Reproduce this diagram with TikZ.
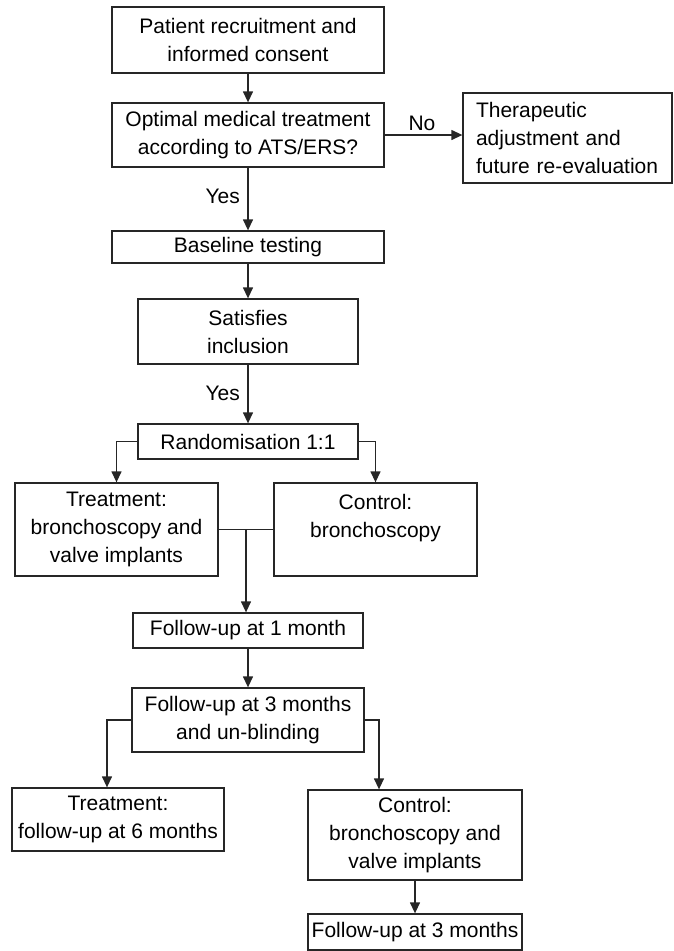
\documentclass[tikz,border=0pt]{standalone}
\usepackage{fontspec}
\setmainfont{Liberation Sans}
\usetikzlibrary{arrows.meta,calc}
\begin{document}
\begin{tikzpicture}[x=1pt,y=-1pt,
  txt/.style={font=\fontsize{21}{28}\selectfont},
  box/.style={txt, draw=black!85, line width=1.3pt, inner sep=0pt, align=center},
  lbl/.style={txt, inner sep=0pt},
  ln/.style={line width=1.3pt, draw=black!85},
  arr/.style={ln, -{Triangle[length=11pt,width=10pt]}}]
\useasboundingbox (0,0) rectangle (673,951);

\node[box, minimum width=272pt, minimum height=66pt] (b1) at (248,40) {Patient recruitment and\\informed consent};
\node[box, minimum width=272pt, minimum height=64pt] (b2) at (248,135) {Optimal medical treatment\\according to ATS/ERS?};
\node[box, minimum height=90pt, text width=183pt, inner xsep=13pt, align=left] (b3) at (567.5,138) {Therapeutic\\adjustment and\\future re-evaluation};
\node[box, minimum width=272pt, minimum height=32pt] (base) at (248,247) {Baseline testing};
\node[box, minimum width=220pt, minimum height=65pt] (sat) at (248,331.5) {Satisfies\\inclusion};
\node[box, minimum width=220pt, minimum height=35pt] (rand) at (248,441.5) {Randomisation 1:1};
\node[box, minimum width=203pt, minimum height=93pt] (treat) at (116.5,529.5) {Treatment:\\bronchoscopy and\\valve implants};
\node[box, minimum width=203pt, minimum height=93pt] (ctrl) at (375.5,529.5) {Control:\\bronchoscopy\\\mbox{}};
\node[box, minimum width=230pt, minimum height=35pt] (fu1) at (248,630.5) {Follow-up at 1 month};
\node[box, minimum width=232pt, minimum height=64pt] (fu3) at (248,720) {Follow-up at 3 months\\and un-blinding};
\node[box, minimum width=212pt, minimum height=63pt] (fu6) at (118,819.5) {Treatment:\\follow-up at 6 months};
\node[box, minimum width=214pt, minimum height=90pt] (ctrl2) at (415,835) {Control:\\bronchoscopy and\\valve implants};
\node[box, minimum width=214pt, minimum height=36pt] (fu3b) at (415,932) {Follow-up at 3 months};

\node[lbl, anchor=center] (no) at (422,123) {No};
\node[lbl, anchor=east] (yes1) at (240,196) {Yes};
\node[lbl, anchor=east] (yes2) at (240,393) {Yes};

\draw[arr] (b1.south) -- (b2.north);
\draw[arr] (b2.east) -- (b3.west |- b2.east);
\draw[arr] (b2.south) -- (base.north);
\draw[arr] (base.south) -- (sat.north);
\draw[arr] (sat.south) -- (rand.north);
\draw[arr] (rand.west) -| (treat.north);
\draw[arr] (rand.east) -| (ctrl.north);
\coordinate (j) at ($(treat.east)!0.5!(ctrl.west)$);
\draw[ln] (treat.east) -- (ctrl.west);
\draw[arr] (j) -- (j |- fu1.north);
\draw[arr] (fu1.south) -- (fu3.north);
\draw[arr] (fu3.west) -| ([xshift=-11pt]fu6.north);
\draw[arr] (fu3.east) -| ([xshift=-36pt]ctrl2.north);
\draw[arr] (ctrl2.south) -- (fu3b.north);
\end{tikzpicture}
\end{document}
